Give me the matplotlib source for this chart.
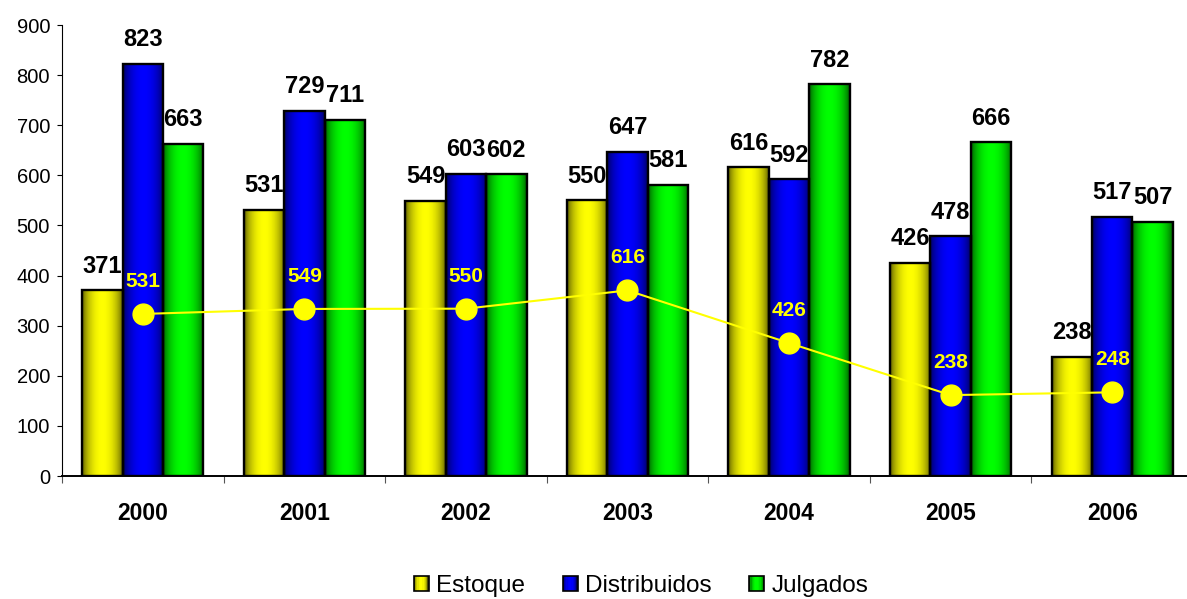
import numpy as np
import matplotlib
matplotlib.use("Agg")
import matplotlib.pyplot as plt
from matplotlib.patches import Rectangle
from matplotlib.legend_handler import HandlerBase

plt.rcParams['font.family'] = ['Liberation Sans', 'DejaVu Sans']

# Data
years = ['2000', '2001', '2002', '2003', '2004', '2005', '2006']
estoque = [371, 531, 549, 550, 616, 426, 238]
distribuidos = [823, 729, 603, 647, 592, 478, 517]
julgados = [663, 711, 602, 581, 782, 666, 507]
saldo = [531, 549, 550, 616, 426, 238, 248]

series_names = ['Estoque', 'Distribuidos', 'Julgados']
series_values = [estoque, distribuidos, julgados]
base_colors = [(1.0, 1.0, 0.0), (0.0, 0.0, 1.0), (0.0, 1.0, 0.0)]


def shade_profile(n=64):
    t = np.linspace(0, 1, n)
    return 0.30 + 0.70 * np.sin(np.pi * t) ** 0.6


def gradient_image(color, n=64):
    prof = shade_profile(n)
    rgb = np.array(color)[None, :] * prof[:, None]
    return rgb[None, :, :]


fig = plt.figure(figsize=(11.87, 5.99), dpi=100)
W, H = 1187, 599
ax = fig.add_axes([62 / W, 1 - 476 / H, (1193 - 62) / W, (476 - 25) / H])

x = np.arange(len(years))
bw = 0.25
offsets = [-bw, 0, bw]

for vals, color, off in zip(series_values, base_colors, offsets):
    bars = ax.bar(x + off, vals, width=bw, color=color, edgecolor='none', zorder=2)
    for rect, v in zip(bars, vals):
        x0 = rect.get_x()
        im = ax.imshow(gradient_image(color), extent=[x0, x0 + bw, 0, v],
                       aspect='auto', interpolation='bilinear', zorder=2.5)
        im.set_clip_path(rect)
    ax.bar(x + off, vals, width=bw, facecolor='none', edgecolor='black',
           linewidth=1.7, zorder=3)
    for xi, v in zip(x + off, vals):
        ax.annotate(str(v), (xi, v), xytext=(0, 9), textcoords='offset points',
                    ha='center', va='bottom', fontsize=17, fontweight='bold',
                    color='black', zorder=4)

ax.set_xlim(-0.5, len(years) - 0.5)
ax.set_ylim(0, 900)
ax.set_yticks(np.arange(0, 901, 100))
ax.tick_params(axis='y', direction='out', length=3.6, width=0.8, pad=5,
               labelsize=14.5)
ax.set_xticks(x)
ax.set_xticklabels(years, fontsize=16.5, fontweight='bold')
ax.tick_params(axis='x', which='major', length=0, pad=19)
ax.set_xticks(np.arange(-0.5, len(years) - 0.4, 1.0), minor=True)
ax.tick_params(axis='x', which='minor', direction='out', length=5, width=0.8,
               color='#555555')
ax.spines['top'].set_visible(False)
ax.spines['right'].set_visible(False)
ax.spines['left'].set_linewidth(0.8)
ax.spines['bottom'].set_linewidth(1.4)
ax.spines['bottom'].set_zorder(5)

# Secondary scale for the balance line
ax2 = ax.twinx()
ax2.set_ylim(-54, 1574)
ax2.set_axis_off()
ax2.plot(x, saldo, color='#ffff00', linewidth=1.5, marker='o', markersize=15,
         markerfacecolor='#ffff00', markeredgecolor='#ffff00', zorder=5)
for xi, v in zip(x, saldo):
    ax2.annotate(str(v), (xi, v), xytext=(0, 16.5), textcoords='offset points',
                 ha='center', va='bottom', fontsize=15, fontweight='bold',
                 color='#ffff00', zorder=6)


class GradientHandler(HandlerBase):
    def __init__(self, color):
        super().__init__()
        self.color = color

    def create_artists(self, legend, orig_handle, xdescent, ydescent,
                       width, height, fontsize, trans):
        artists = []
        n = 12
        prof = shade_profile(n)
        sw = width / n
        for i in range(n):
            c = tuple(np.array(self.color) * prof[i])
            artists.append(Rectangle((-xdescent + i * sw, -ydescent), sw * 1.05,
                                     height, facecolor=c, edgecolor='none',
                                     transform=trans))
        artists.append(Rectangle((-xdescent, -ydescent), width, height,
                                 facecolor='none', edgecolor='black',
                                 linewidth=1.2, transform=trans))
        return artists


handles = [Rectangle((0, 0), 1, 1) for _ in series_names]
leg = fig.legend(handles, series_names, loc='center', bbox_to_anchor=(0.54, 1 - 586 / H),
                 ncol=3, frameon=False, fontsize=17.5, handlelength=0.62,
                 handleheight=0.62, handletextpad=0.3, columnspacing=1.55,
                 handler_map={h: GradientHandler(c) for h, c in zip(handles, base_colors)})

fig.savefig('out.png', dpi=100)
